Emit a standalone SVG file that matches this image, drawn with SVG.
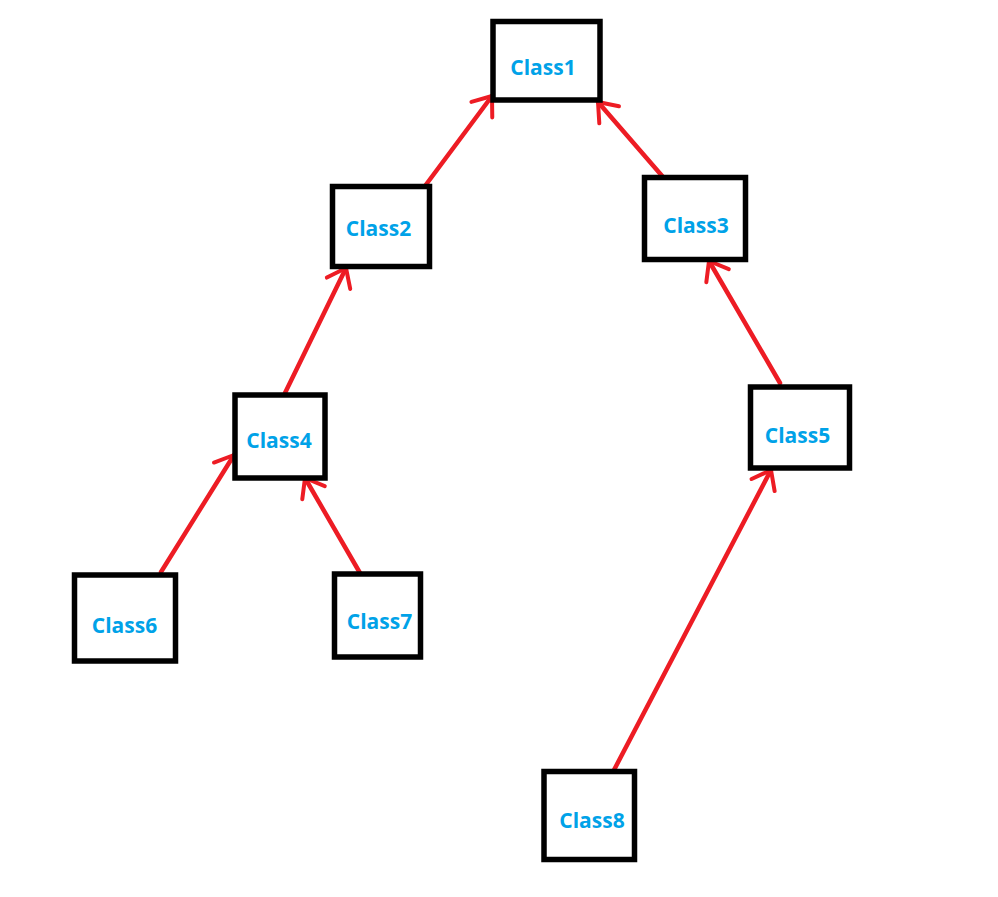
<svg xmlns="http://www.w3.org/2000/svg" width="998" height="897" viewBox="0 0 998 897">
<style>
.box{fill:#fff;stroke:#000;stroke-width:5.5}
.lbl{font-family:"Open Sans","Noto Sans",sans-serif;font-weight:bold;font-size:21px;fill:#00A2E8;text-anchor:middle}
.edge{stroke:#ED1C24;stroke-width:4.5;fill:none;stroke-linecap:round;marker-end:url(#arr)}
</style>
<defs>
<marker id="arr" markerUnits="userSpaceOnUse" markerWidth="40" markerHeight="40" viewBox="-20 -20 40 40" refX="0" refY="0" orient="auto" overflow="visible">
<path d="M-17,-13 L0,0 L-17,13" fill="none" stroke="#ED1C24" stroke-width="4" stroke-linecap="round" stroke-linejoin="round"/>
</marker>
</defs>
<rect width="998" height="897" fill="#fff"/>
<g id="connectors">
<line class="edge" x1="425" y1="186" x2="492" y2="96"/>
<line class="edge" x1="663" y1="177" x2="598" y2="102"/>
<line class="edge" x1="285" y1="393" x2="346" y2="268"/>
<line class="edge" x1="780" y1="383" x2="709" y2="261"/>
<line class="edge" x1="161" y1="572" x2="234" y2="455"/>
<line class="edge" x1="360" y1="573" x2="305" y2="478"/>
<line class="edge" x1="614" y1="770" x2="771" y2="470"/>
</g>
<g id="Class1"><rect class="box" x="493" y="21.5" width="107" height="78.5"/><text class="lbl" x="543" y="75">Class1</text></g>
<g id="Class2"><rect class="box" x="332.5" y="186.5" width="97" height="80"/><text class="lbl" x="378.5" y="236">Class2</text></g>
<g id="Class3"><rect class="box" x="644.5" y="177.5" width="101" height="82"/><text class="lbl" x="696" y="233">Class3</text></g>
<g id="Class4"><rect class="box" x="235" y="395" width="90" height="83"/><text class="lbl" x="279" y="448">Class4</text></g>
<g id="Class5"><rect class="box" x="750.5" y="387" width="99" height="81"/><text class="lbl" x="797.5" y="443">Class5</text></g>
<g id="Class6"><rect class="box" x="74.5" y="575" width="101" height="86"/><text class="lbl" x="124.5" y="633">Class6</text></g>
<g id="Class7"><rect class="box" x="334.5" y="574" width="86" height="83"/><text class="lbl" x="379.5" y="629">Class7</text></g>
<g id="Class8"><rect class="box" x="544" y="771.5" width="90.5" height="88"/><text class="lbl" x="592" y="828">Class8</text></g>
</svg>
